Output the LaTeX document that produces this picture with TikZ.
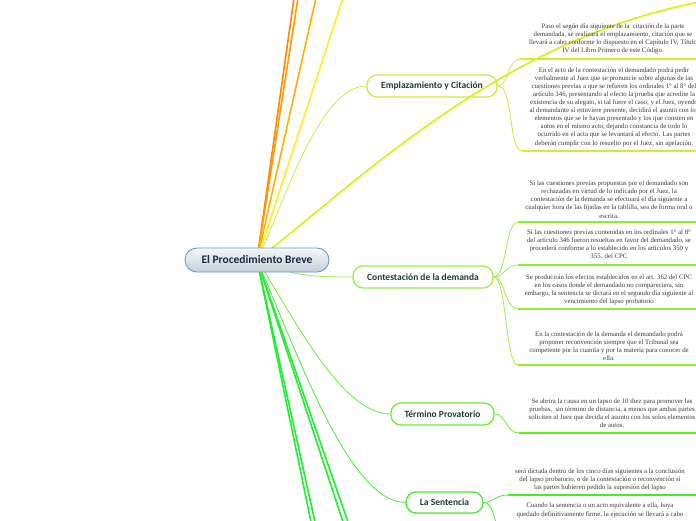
\documentclass[tikz,border=0pt]{standalone}
\usepackage{fontspec}
\setmainfont{Liberation Serif}
\newfontfamily\labelfont{Carlito}
\definecolor{rootborder}{HTML}{5B9BD5}
\definecolor{roottop}{HTML}{F6F8FA}
\definecolor{rootbot}{HTML}{C6CED8}
\definecolor{roottxt}{HTML}{1C2744}
\definecolor{labeltxt}{HTML}{1E3C36}
\definecolor{bodytxt}{HTML}{3A3A3A}
\definecolor{empc}{HTML}{C5EE45}
\definecolor{empline}{HTML}{CCF02A}
\definecolor{conc}{HTML}{9EEE4A}
\definecolor{conline}{HTML}{8CF028}
\definecolor{terc}{HTML}{6FEA35}
\definecolor{terline}{HTML}{66EE22}
\definecolor{senc}{HTML}{4DE63A}
\definecolor{senline}{HTML}{44EE22}
\definecolor{botg}{HTML}{22EE33}
\definecolor{orgA}{HTML}{FF8800}
\definecolor{orgB}{HTML}{FF9A00}
\definecolor{orgC}{HTML}{FFB000}
\definecolor{yelA}{HTML}{FFEE22}
\definecolor{yelB}{HTML}{DDEE11}
\pgfdeclarelayer{bg}
\pgfdeclarelayer{fg}
\pgfsetlayers{bg,main,fg}
\begin{document}
\begin{tikzpicture}[x=1pt,y=-1pt,
  lbl/.style={font=\labelfont\bfseries\fontsize{9.5}{11}\selectfont, text=labeltxt,
    rounded corners=10pt, fill=white, line width=1.3pt, minimum height=22pt, inner sep=0pt},
  rootbox/.style={font=\labelfont\bfseries\fontsize{11.5}{13}\selectfont, text=roottxt,
    draw=rootborder, line width=0.9pt, rounded corners=12pt, top color=roottop, bottom color=rootbot,
    minimum width=144pt, minimum height=24pt, inner sep=0pt},
  body/.style={font=\fontsize{6.8}{8.1}\selectfont, text=bodytxt, align=center, inner sep=0pt},
  conn/.style={line width=0.8pt},
  uline/.style={line width=2pt},
  branch/.style={line width=1.6pt}]
\useasboundingbox (0,0) rectangle (696,520);
\begin{pgfonlayer}{bg}
\fill[white] (0,0) rectangle (696,520);
\end{pgfonlayer}

% root node on top layer
\begin{pgfonlayer}{fg}
\node[rootbox] (root) at (257,260) {El Procedimiento Breve};
\end{pgfonlayer}

% child nodes
\node[lbl, draw=empc, minimum width=130pt] (emp) at (432,86) {Emplazamiento y Citación};
\node[lbl, draw=conc, minimum width=140pt] (con) at (423,277) {Contestación de la demanda};
\node[lbl, draw=terc, minimum width=103pt] (ter) at (442.5,414) {Término Provatorio};
\node[lbl, draw=senc, minimum width=77pt, minimum height=21pt] (sen) at (444.5,502.5) {La Sentencia};

% free ends
\coordinate (oA) at (294,-2);
\coordinate (oB) at (298,-2);
\coordinate (oC) at (316,-2);
\coordinate (oD) at (343,-2);
\coordinate (yE) at (700,2);
\coordinate (bA) at (311,522);
\coordinate (bB) at (315,522);
\coordinate (bC) at (343,522);
\coordinate (bD) at (348,522);

\begin{pgfonlayer}{bg}
\draw[branch, orgA] (root.center) -- (oA);
\draw[branch, orgB] (root.center) -- (oB);
\draw[branch, orgC] (root.center) -- (oC);
\draw[branch, yelA] (root.center) -- (oD);
\draw[branch, botg] (root.center) -- (bA);
\draw[branch, botg] (root.center) -- (bB);
\draw[branch, botg] (root.center) -- (bC);
\draw[branch, botg] (root.center) -- (bD);
\draw[conn, empc] (root.center) .. controls (282,210) and (318,86) .. (emp.west);
\draw[conn, conc] (root.center) .. controls (290,277) and (320,277) .. (con.west);
\draw[conn, terc] (root.center) .. controls (290,310) and (340,414) .. (ter.west);
\draw[conn, senc] (root.center) .. controls (300,360) and (350,502) .. (sen.west);
\end{pgfonlayer}

% yellow curve over the emplazamiento node
\draw[branch, yelB] (root.center) .. controls (360,180) and (500,40) .. (yE);

% ---- Emplazamiento children
\coordinate (e1s) at (520,59);  \coordinate (e1e) at (700,59);
\coordinate (e2s) at (522,151); \coordinate (e2e) at (700,151);
\draw[conn, empc] (emp.east) .. controls (508,86) and (508,59) .. (e1s);
\draw[uline, empline] (e1s) -- (e1e);
\draw[conn, empc] (emp.east) .. controls (514,86) and (508,151) .. (e2s);
\draw[uline, empline] (e2s) -- (e2e);
\node[body] (e1t) at (613,39) {Paso el según día siguiente de la\ \ citación de la parte\\
demandada, se realizará el emplazamiento, citación que se\\
llevará a cabo conforme lo dispuesto en el Capítulo IV, Título\\
IV del Libro Primero de este Código.};
\node[body] (e2t) at (614,107) {En el acto de la contestación el demandado podrá pedir\\
verbalmente al Juez que se pronuncie sobre algunas de las\\
cuestiones previas a que se refieren los ordinales 1° al 8° del\\
artículo 346, presentando al efecto la prueba que acredite la\\
existencia de su alegato, si tal fuere el caso; y el Juez, oyendo\\
al demandante si estuviere presente, decidirá el asunto con los\\
elementos que se le hayan presentado y los que consten en\\
autos en el mismo acto, dejando constancia de todo lo\\
ocurrido en el acta que se levantará al efecto. Las partes\\
deberán cumplir con lo resuelto por el Juez, sin apelación.};

% ---- Contestación children
\coordinate (c1s) at (518,222); \coordinate (c1e) at (700,222);
\coordinate (c2s) at (518,265); \coordinate (c2e) at (700,265);
\coordinate (c3s) at (518,309); \coordinate (c3e) at (700,309);
\coordinate (c4s) at (518,365); \coordinate (c4e) at (700,365);
\draw[conn, conc] (con.east) .. controls (507,277) and (505,222) .. (c1s);
\draw[uline, conline] (c1s) -- (c1e);
\draw[conn, conc] (con.east) .. controls (505,277) and (505,265) .. (c2s);
\draw[uline, conline] (c2s) -- (c2e);
\draw[conn, conc] (con.east) .. controls (505,277) and (505,309) .. (c3s);
\draw[uline, conline] (c3s) -- (c3e);
\draw[conn, conc] (con.east) .. controls (507,277) and (505,365) .. (c4s);
\draw[uline, conline] (c4s) -- (c4e);
\node[body] (c1t) at (609,199.5) {Si las cuestiones previas propuestas por el demandado son\\
rechazadas en virtud de lo indicado por el Juez, la\\
contestación de la demanda se efectuará el día siguiente a\\
cualquier hora de las fijadas en la tablilla, sea de forma oral o\\
escrita.};
\node[body] (c2t) at (609,244) {Si las cuestiones previas contenidas en los ordinales 1° al 8°\\
del artículo 346 fueron resueltas en favor del demandado, se\\
procederá conforme a lo establecido en los artículos 350 y\\
355. del CPC};
\node[body] (c3t) at (609,290) {Se producirán los efectos establecidos en el art. 362 del CPC\\
en los casos donde el demandado no compareciera, sin\\
embargo, la sentencia se dictará en el segundo día siguiente al\\
vencimiento del lapso probatorio};
\node[body] (c4t) at (609,346) {En la contestación de la demanda el demandado podrá\\
proponer reconvención siempre que el Tribunal sea\\
competente por la cuantía y por la materia para conocer de\\
ella.};

% ---- Término child
\coordinate (t1s) at (519,433); \coordinate (t1e) at (700,433);
\draw[conn, terc] (ter.east) .. controls (506,414) and (506,433) .. (t1s);
\draw[uline, terline] (t1s) -- (t1e);
\node[body] (t1t) at (612,413.5) {Se abrira la causa en un lapso de 10 diez para promover las\\
pruebas,\ \ sin término de distancia, a menos que ambas partes\\
soliciten al Juez que decida el asunto con los solos elementos\\
de autos.};

% ---- Sentencia children
\coordinate (s1s) at (508,495); \coordinate (s1e) at (700,495);
\coordinate (s2s) at (505,560);
\draw[conn, senc] (sen.east) .. controls (495,502) and (495,495) .. (s1s);
\draw[uline, senline] (s1s) -- (s1e);
\draw[conn, senc] (sen.east) .. controls (493,502) and (495,520) .. (s2s);
\node[body] (s1t) at (600,480) {será dictada dentro de los cinco días siguientes a la conclusión\\
del lapso probatorio, o de la contestación o reconvención si\\
las partes hubieren pedido la supresión del lapso};
\node[body, anchor=north] (s2t) at (600,503) {Cuando la sentencia o un acto equivalente a ella, haya\\
quedado definitivamente firme, la ejecución se llevará a cabo};
\end{tikzpicture}
\end{document}
